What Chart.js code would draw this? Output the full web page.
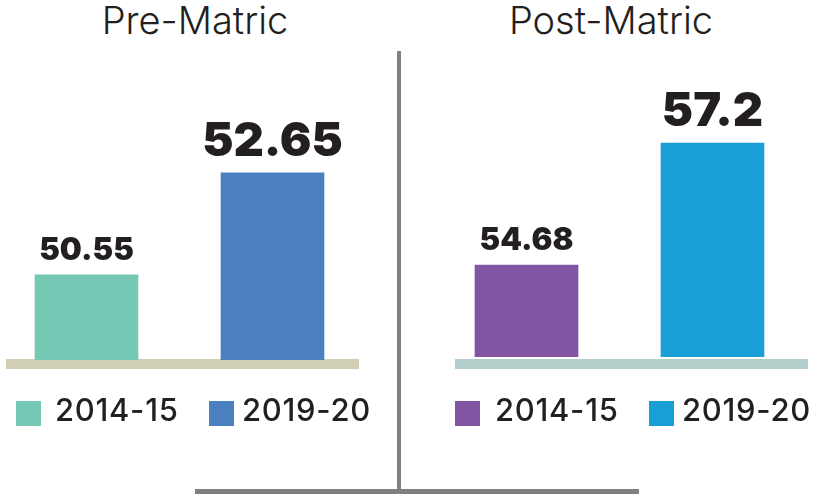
<!DOCTYPE html>
<html>
<head>
<meta charset="utf-8">
<script src="https://cdn.jsdelivr.net/npm/chart.js@4/dist/chart.umd.min.js"></script>
<style>
    body { margin: 0; background: #fff; }
    #wrap { position: relative; width: 816px; height: 494px; overflow: hidden; font-family: Inter, "Noto Sans", sans-serif; color: #231f20; }
    .chartBox { position: absolute; top: 0; width: 400px; height: 494px; }
    .title { position: absolute; top: -3px; font-size: 38px; font-weight: 300; transform: translateX(-50%); white-space: nowrap; }
    .base { position: absolute; top: 359px; height: 10px; }
    .legend { position: absolute; top: 396px; font-size: 31px; font-weight: 500; letter-spacing: 0.7px; white-space: nowrap; }
    .legend span.box { position: absolute; top: 5px; width: 25px; height: 25px; }
    .legend span.txt { position: absolute; top: -5px; }
    .rule { position: absolute; background: #808083; }
</style>
</head>
<body>
<div id="wrap">
    <div class="title" style="left:195px">Pre-Matric</div>
    <div class="title" style="left:611px">Post-Matric</div>

    <div class="base" style="left:6px;width:353px;background:#d0cfb4"></div>
    <div class="base" style="left:455px;width:353px;background:#b3cfcb"></div>

    <div class="chartBox" style="left:-20px"><canvas id="preChart"></canvas></div>
    <div class="chartBox" style="left:416px"><canvas id="postChart"></canvas></div>

    <div class="rule" style="left:397px;top:51px;width:4px;height:440px"></div>
    <div class="rule" style="left:195px;top:489px;width:444px;height:5px"></div>

    <div id="preLegend"></div>
    <div id="postLegend"></div>
</div>

<script>
const years = ["2014-15", "2019-20"];
const preMatric = [50.55, 52.65];
const postMatric = [54.68, 57.2];

const preColors = ["#74c8b4", "#4a80c0"];
const postColors = ["#8155a2", "#199ed6"];

// value labels above the bars, second year drawn larger
const labelSizes = [31, 47];
const labelGaps = [15, 17];

const valueLabels = {
    id: "valueLabels",
    afterDatasetsDraw(chart) {
        const ctx = chart.ctx;
        const meta = chart.getDatasetMeta(0);
        const data = chart.data.datasets[0].data;
        ctx.save();
        ctx.fillStyle = "#231f20";
        ctx.textAlign = "center";
        ctx.textBaseline = "alphabetic";
        meta.data.forEach((bar, i) => {
            ctx.font = `900 ${labelSizes[i]}px Inter, "Noto Sans", sans-serif`;
            ctx.fillText(String(data[i]), bar.x, bar.y - labelGaps[i]);
        });
        ctx.restore();
    },
};

function makeChart(id, values, colors, yMin, yMax, padding) {
    const ctx = document.getElementById(id).getContext("2d");
    return new Chart(ctx, {
        type: "bar",
        data: {
            labels: years,
            datasets: [
                {
                    data: values,
                    backgroundColor: colors,
                    barThickness: 103,
                    borderWidth: 0,
                },
            ],
        },
        options: {
            responsive: true,
            maintainAspectRatio: false,
            animation: false,
            layout: { padding },
            plugins: {
                legend: { display: false },
                tooltip: { enabled: false },
            },
            scales: {
                x: { display: false },
                y: { display: false, min: yMin, max: yMax },
            },
        },
        plugins: [valueLabels],
    });
}

makeChart("preChart", preMatric, preColors, 48.8, 54.15, { left: 13.5, right: 14.5, top: 100, bottom: 134 });
makeChart("postChart", postMatric, postColors, 52.78, 58.15, { left: 17.5, right: 10.5, top: 97, bottom: 137 });

// html legends
function buildLegend(id, colors, boxX, textX) {
    const el = document.getElementById(id);
    el.className = "legend";
    el.style.left = "0px";
    el.innerHTML = years
        .map(
            (y, i) => `
        <span class="box" style="left:${boxX[i]}px;background:${colors[i]}"></span>
        <span class="txt" style="left:${textX[i]}px">${y}</span>
    `
        )
        .join("");
}

buildLegend("preLegend", preColors, [16, 209], [55, 242]);
buildLegend("postLegend", postColors, [455, 649], [495, 682]);
</script>
</body>
</html>
